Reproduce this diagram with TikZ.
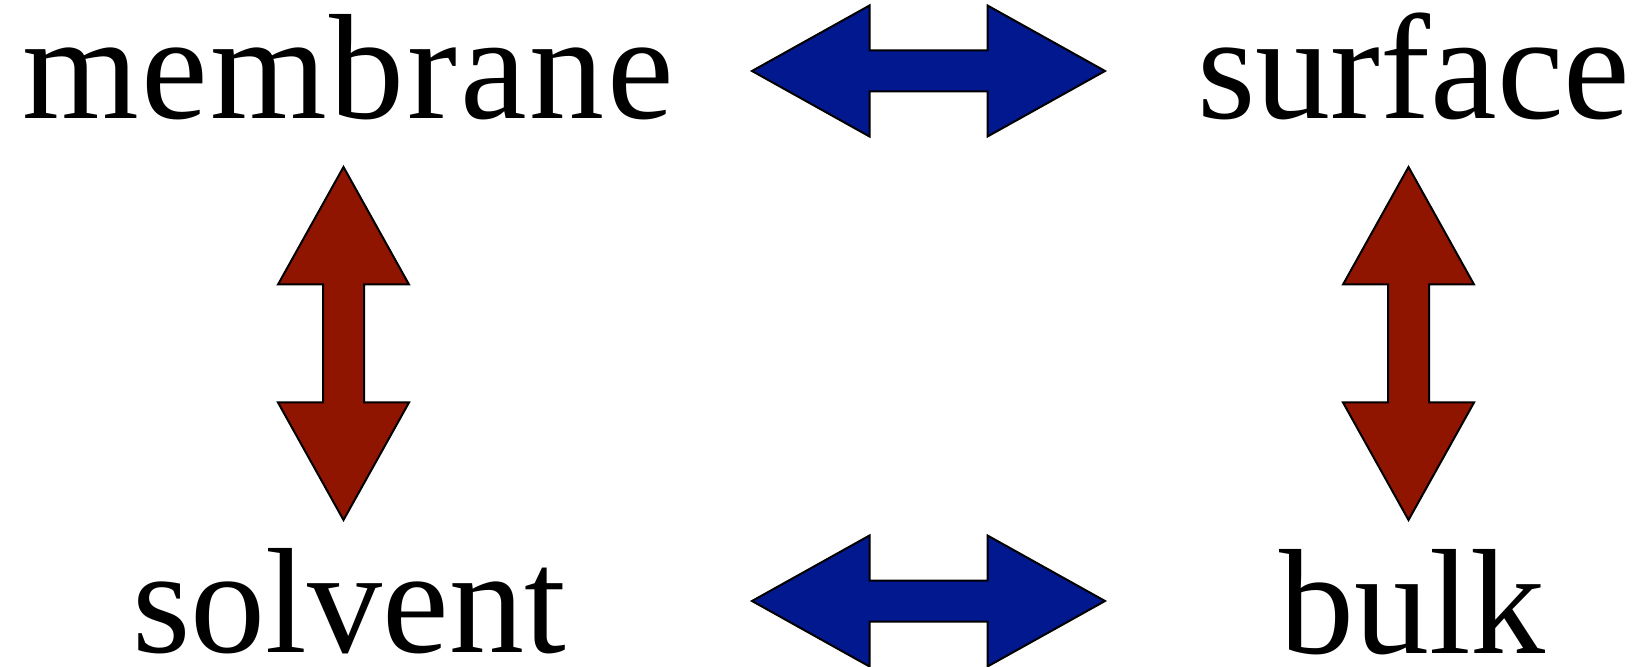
\documentclass[tikz,border=0pt]{standalone}
\usepackage{fontspec}
\setmainfont{Liberation Serif}
\newfontfamily\spacedserif[LetterSpace=1.8]{Liberation Serif}
\definecolor{arrowblue}{RGB}{2,24,143}
\definecolor{arrowred}{RGB}{143,21,0}
\tikzset{
  label text/.style={anchor=base, inner sep=0pt, font=\fontsize{75}{80}\selectfont},
  % broad double-headed arrow, centred on the origin, pointing along x
  fat arrow/.pic={
    \draw[pic actions] (-176.5,0) -- (-59,-65.5) -- (-59,-20.5) -- (59,-20.5)
      -- (59,-65.5) -- (176.5,0) -- (59,65.5) -- (59,20.5) -- (-59,20.5)
      -- (-59,65.5) -- cycle;
  },
  horiz/.style={draw=black, line width=1pt, fill=arrowblue},
  vert/.style={draw=black, line width=1pt, fill=arrowred, rotate=90},
}
\begin{document}
\begin{tikzpicture}[x=0.5pt, y=-0.5pt]
  \useasboundingbox (0,0) rectangle (1641,667);

  % labels
  \node[label text] (membrane) at (348,119) {\spacedserif membrane};
  \node[label text] (surface)  at (1414,119)  {surface};
  \node[label text] (solvent)  at (349,652)   {solvent};
  \node[label text] (bulk)     at (1412.5,653) {bulk};

  % arrow centres
  \coordinate (top)   at (928.5,71);
  \coordinate (down)  at (928.5,601);
  \coordinate (left)  at (343.5,343.5);
  \coordinate (right) at (1408.5,343.5);

  \pic[horiz] at (top)   {fat arrow};
  \pic[horiz] at (down)  {fat arrow};
  \pic[vert]  at (left)  {fat arrow};
  \pic[vert]  at (right) {fat arrow};
\end{tikzpicture}
\end{document}
